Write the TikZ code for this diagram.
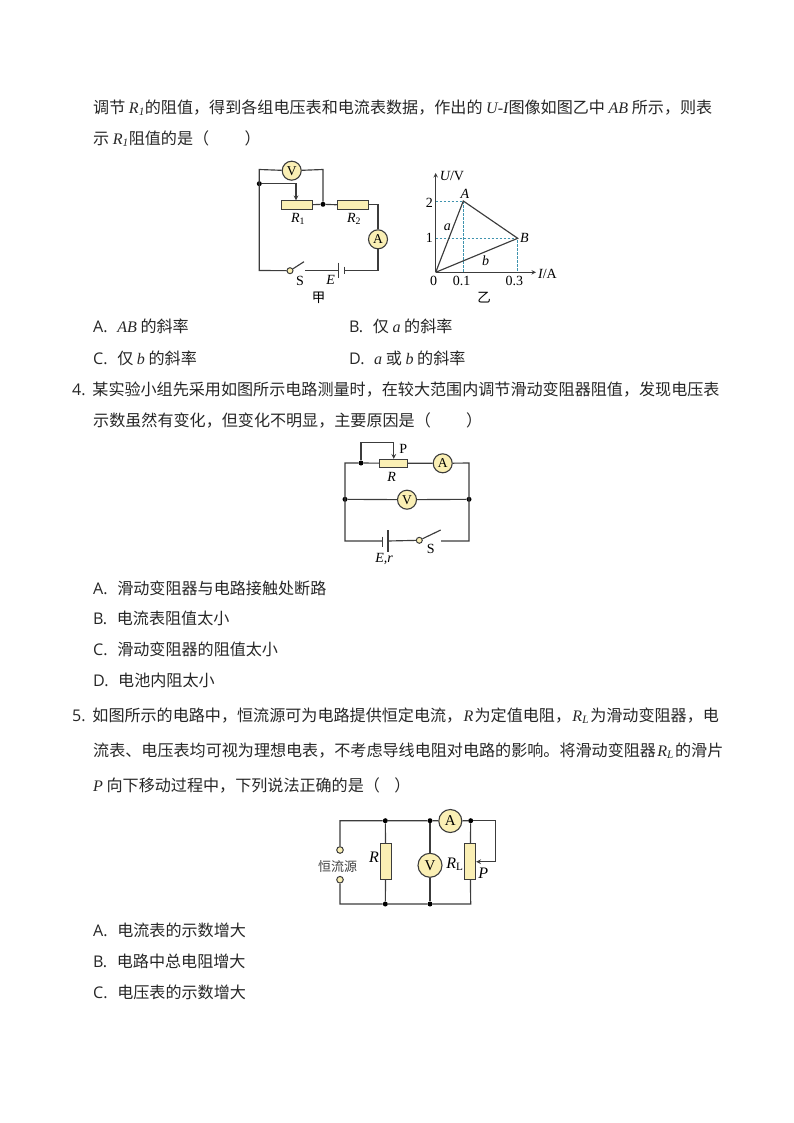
\documentclass[tikz,border=0pt]{standalone}
\usepackage{fontspec}
\setmainfont{Noto Sans CJK SC}
\newfontfamily\lat{Liberation Serif}
\newfontfamily\opt{Open Sans}
\usetikzlibrary{arrows}
\definecolor{wirecol}{HTML}{3C3C3C}
\definecolor{rescol}{HTML}{FAEFB4}
\definecolor{dashcol}{HTML}{3F93AE}
\newcommand{\ita}[1]{{\lat\itshape #1}}
\newcommand{\rom}[1]{{\lat #1}}
\newcommand{\opn}[1]{{\opt #1}}
\newcommand{\thin}{\hspace{.08em}}
\begin{document}
\begin{tikzpicture}[x=1pt,y=-1pt]
	\tikzstyle{textline}=[anchor=west,inner sep=0pt,font=\fontsize{16.08}{18}\selectfont,text=black!85]
	\tikzstyle{wire}=[draw=wirecol,line width=1.15pt,line join=miter]
	\tikzstyle{wiretip}=[wire,->,>=stealth]
	\tikzstyle{guide}=[draw=dashcol,line width=.8pt,dash pattern=on 2.5pt off 1.5pt]
	\tikzstyle{jdot}=[circle,fill=black,inner sep=0pt,minimum size=5pt]
	\tikzstyle{contact}=[circle,draw=wirecol,fill=rescol,line width=1pt,inner sep=0pt,minimum size=6pt]
	\tikzstyle{meter}=[circle,draw=wirecol,fill=rescol,line width=1.1pt,inner sep=0pt,minimum size=19pt,font=\lat\fontsize{13.5}{13}\selectfont]
	\tikzstyle{res}=[rectangle,draw=wirecol,fill=rescol,line width=.9pt,inner sep=0pt,minimum width=31pt,minimum height=9pt]
	\tikzstyle{lab}=[inner sep=0pt,font=\lat\fontsize{14}{14}\selectfont]
	\useasboundingbox (0,0) rectangle (794,1123);

	% text of the page
	\node[textline] (q3a) at (93,107.5) {调节 \ita{R\textsubscript{1}}的阻值，得到各组电压表和电流表数据，作出的 \ita{U-I}图像如图乙中 \ita{AB} 所示，则表};
	\node[textline] (q3b) at (93,138.5) {示 \ita{R\textsubscript{1}}阻值的是（\hspace{2.2em}）};
	\node[textline] (q3optA) at (93,326.5) {\opn{A.}\hspace{.6em}\ita{AB} 的斜率};
	\node[textline] (q3optB) at (349,326.5) {\opn{B.}\hspace{.6em}仅 \ita{a} 的斜率};
	\node[textline] (q3optC) at (93,358.5) {\opn{C.}\hspace{.6em}仅 \ita{b} 的斜率};
	\node[textline] (q3optD) at (349,358.5) {\opn{D.}\hspace{.6em}\ita{a} 或 \ita{b} 的斜率};

	\node[textline] (q4a) at (72,389.5) {\opn{4.}\hspace{.42em}某实验小组先采用如图所示电路测量时，在较大范围内调节滑动变阻器阻值，发现电压表};
	\node[textline] (q4b) at (93,420.5) {示数虽然有变化，但变化不明显，主要原因是（\hspace{2.2em}）};
	\node[textline] (q4optA) at (93,588.5) {\opn{A.}\hspace{.6em}滑动变阻器与电路接触处断路};
	\node[textline] (q4optB) at (93,618.5) {\opn{B.}\hspace{.6em}电流表阻值太小};
	\node[textline] (q4optC) at (93,649.5) {\opn{C.}\hspace{.6em}滑动变阻器的阻值太小};
	\node[textline] (q4optD) at (93,680.5) {\opn{D.}\hspace{.6em}电池内阻太小};

	\node[textline] (q5a) at (72,715.5) {\opn{5.}\hspace{.42em}如图所示的电路中，恒流源可为电路提供恒定电流，\thin\ita{R}\thin 为定值电阻，\thin\ita{R\textsubscript{L}}\thin 为滑动变阻器，电};
	\node[textline] (q5b) at (93,750.5) {流表、电压表均可视为理想电表，不考虑导线电阻对电路的影响。将滑动变阻器\thin\ita{R\textsubscript{L}}\thin 的滑片};
	\node[textline] (q5c) at (93,785.5) {\ita{P} 向下移动过程中，下列说法正确的是（\hspace{.9em}）};
	\node[textline] (q5optA) at (93,930.5) {\opn{A.}\hspace{.6em}电流表的示数增大};
	\node[textline] (q5optB) at (93,961.5) {\opn{B.}\hspace{.6em}电路中总电阻增大};
	\node[textline] (q5optC) at (93,992.5) {\opn{C.}\hspace{.6em}电压表的示数增大};

	% circuit jia
	\coordinate (jTL) at (259.3,169.5);
	\coordinate (jTR) at (323,169.5);
	\coordinate (jBL) at (259.3,270.5);
	\coordinate (jBR) at (378,270.5);
	\coordinate (jCR) at (378,204.3);
	\coordinate (jSlide) at (296,183.7);
	\coordinate (jLever) at (304,261.7);
	\coordinate (jOpen) at (305,270.5);
	\coordinate (jPlusA) at (338.7,262.7);
	\coordinate (jPlusB) at (338.7,278);
	\coordinate (jMinusA) at (344.3,266.7);
	\coordinate (jMinusB) at (344.3,274);
	\coordinate (jPlus) at (338.7,270.5);
	\coordinate (jMinus) at (344.3,270.5);
	\node[jdot] (jDotL) at (259.3,183.7) {};
	\node[jdot] (jDotC) at (323,204.3) {};
	\node[res] (jR1) at (296.5,205.3) {};
	\node[res] (jR2) at (352.7,205.3) {};
	\node[meter] (jV) at (291.7,170.7) {V};
	\node[meter] (jA) at (378,239.3) {A};
	\node[contact] (jS) at (290,270.7) {};

	\draw[wire] (jV) -- (jTL) -- (jBL) -- (jS);
	\draw[wire] (jV) -- (jTR) -- (jDotC);
	\draw[wire] (jR1) -- (jDotC) -- (jR2);
	\draw[wire] (jR2.east |- jCR) -- (jCR) -- (jA);
	\draw[wire] (jA) -- (jBR) -- (jMinus);
	\draw[wire] (jOpen) -- (jPlus);
	\draw[wire] (jPlusA) -- (jPlusB);
	\draw[wire] (jMinusA) -- (jMinusB);
	\draw[wire] (jS) -- (jLever);
	\draw[wiretip] (jDotL) -- (jSlide) -- (jR1.north -| jSlide);

	\node[lab] (jLabR1) at (298,219) {\ita{R}\rom{\textsubscript{1}}};
	\node[lab] (jLabR2) at (354,218.5) {\ita{R}\rom{\textsubscript{2}}};
	\node[lab] (jLabS) at (300,281) {S};
	\node[lab] (jLabE) at (330.7,279.5) {\ita{E}};
	\node[inner sep=0pt,font=\fontsize{13.5}{14}\selectfont] (jName) at (318.7,298) {甲};

	% graph yi
	\coordinate (gO) at (435.7,272.3);
	\coordinate (gYtop) at (435.7,173);
	\coordinate (gXend) at (536,272.3);
	\coordinate (gA) at (463.3,201);
	\coordinate (gB) at (517.7,238.3);
	\coordinate (gY2) at (435.7,201);
	\coordinate (gY1) at (435.7,238.3);
	\coordinate (gX1) at (463.3,272.3);
	\coordinate (gX3) at (517.7,272.3);

	\draw[guide] (gY2) -- (gA) -- (gX1);
	\draw[guide] (gY1) -- (gB) -- (gX3);
	\draw[wiretip,line width=1pt] (gO) -- (gYtop);
	\draw[wiretip,line width=1pt] (gO) -- (gXend);
	\draw[wire] (gO) -- (gA) -- (gB) -- (gO);

	\node[lab] (gLabU) at (452,176) {\ita{U}/V};
	\node[lab] (gLab2) at (429.3,202.5) {2};
	\node[lab] (gLab1) at (429.3,238.3) {1};
	\node[lab] (gLabA) at (465,194.3) {\ita{A}};
	\node[lab] (gLabB) at (524.3,237.7) {\ita{B}};
	\node[lab] (gLaba) at (447.3,227.3) {\ita{a}};
	\node[lab] (gLabb) at (485.7,261) {\ita{b}};
	\node[lab] (gLab0) at (433.7,281) {0};
	\node[lab] (gLab01) at (461.7,281) {0.1};
	\node[lab] (gLab03) at (514.3,281) {0.3};
	\node[lab] (gLabI) at (547.5,274.3) {\ita{I}/A};
	\node[inner sep=0pt,font=\fontsize{13.5}{14}\selectfont] (gName) at (484,298) {乙};

	% circuit of question 4
	\coordinate (mTL) at (345,463);
	\coordinate (mTR) at (469,463);
	\coordinate (mBL) at (345,541);
	\coordinate (mBR) at (469,541);
	\coordinate (mLoopA) at (361,442.7);
	\coordinate (mLoopB) at (393.7,442.7);
	\coordinate (mLever) at (440.7,530);
	\coordinate (mOpen) at (441,541);
	\coordinate (mPlusA) at (388,530);
	\coordinate (mPlusB) at (388,551.7);
	\coordinate (mMinusA) at (382.3,536.7);
	\coordinate (mMinusB) at (382.3,546.7);
	\coordinate (mPlus) at (388,541);
	\coordinate (mMinus) at (382.3,541);
	\node[jdot] (mDotT) at (361,463) {};
	\node[jdot] (mDotL) at (345,499.3) {};
	\node[jdot] (mDotR) at (469,499.3) {};
	\node[res,minimum width=28.4pt,minimum height=8pt] (mR) at (393.5,463.3) {};
	\node[meter] (mA) at (442.7,463.3) {A};
	\node[meter] (mV) at (407,499.7) {V};
	\node[contact] (mS) at (419.3,540.3) {};

	\draw[wire] (mR) -- (mDotT) -- (mTL) -- (mBL) -- (mMinus);
	\draw[wire] (mR) -- (mA) -- (mTR) -- (mBR) -- (mOpen);
	\draw[wire] (mDotL) -- (mV) -- (mDotR);
	\draw[wire] (mPlus) -- (mS) -- (mLever);
	\draw[wire] (mPlusA) -- (mPlusB);
	\draw[wire] (mMinusA) -- (mMinusB);
	\draw[wiretip] (mDotT) -- (mLoopA) -- (mLoopB) -- (mR.north -| mLoopB);

	\node[lab] (mLabP) at (403.3,449) {P};
	\node[lab] (mLabR) at (391.7,477) {\ita{R}};
	\node[lab] (mLabE) at (384,559) {\ita{E,r}};
	\node[lab] (mLabS) at (430.7,549.3) {S};

	% circuit of question 5
	\coordinate (kTL) at (340,820.7);
	\coordinate (kBL) at (340,904);
	\coordinate (kBR) at (470.7,904);
	\coordinate (kTR) at (495.7,820.7);
	\coordinate (kSlide) at (495.7,861.7);
	\node[contact,minimum size=6.6pt] (kUp) at (340,850) {};
	\node[contact,minimum size=6.6pt] (kLow) at (340,879.7) {};
	\node[jdot] (kT1) at (385.3,820.7) {};
	\node[jdot] (kT2) at (430,820.7) {};
	\node[jdot] (kT3) at (470.7,820.7) {};
	\node[jdot] (kB1) at (385.3,904) {};
	\node[jdot] (kB2) at (430,904) {};
	\node[meter,minimum size=23pt,font=\lat\fontsize{15}{15}\selectfont] (kA) at (450.3,821) {A};
	\node[meter,minimum size=24pt,font=\lat\fontsize{15}{15}\selectfont] (kV) at (430,865.3) {V};
	\node[res,minimum width=11pt,minimum height=36pt] (kR) at (385.7,861.3) {};
	\node[res,minimum width=11pt,minimum height=36pt] (kRL) at (470.2,861.3) {};

	\draw[wire] (kUp) -- (kTL) -- (kT1) -- (kT2) -- (kA) -- (kT3);
	\draw[wire] (kLow) -- (kBL) -- (kB1) -- (kB2) -- (kBR) -- (kRL);
	\draw[wire] (kT1) -- (kR) -- (kB1);
	\draw[wire] (kT2) -- (kV) -- (kB2);
	\draw[wire] (kT3) -- (kRL);
	\draw[wiretip] (kT3) -- (kTR) -- (kSlide) -- (kRL.east |- kSlide);

	\node[inner sep=0pt,font=\fontsize{13}{13}\selectfont,text=black!75] (kSource) at (337.7,866.7) {恒流源};
	\node[lab,font=\lat\fontsize{16}{16}\selectfont] (kLabR) at (374,857.3) {\ita{R}};
	\node[lab,font=\lat\fontsize{16}{16}\selectfont] (kLabRL) at (455,864.3) {\ita{R}\textsubscript{L}};
	\node[lab,font=\lat\fontsize{16}{16}\selectfont] (kLabP) at (483.3,873.3) {\ita{P}};
\end{tikzpicture}
\end{document}
